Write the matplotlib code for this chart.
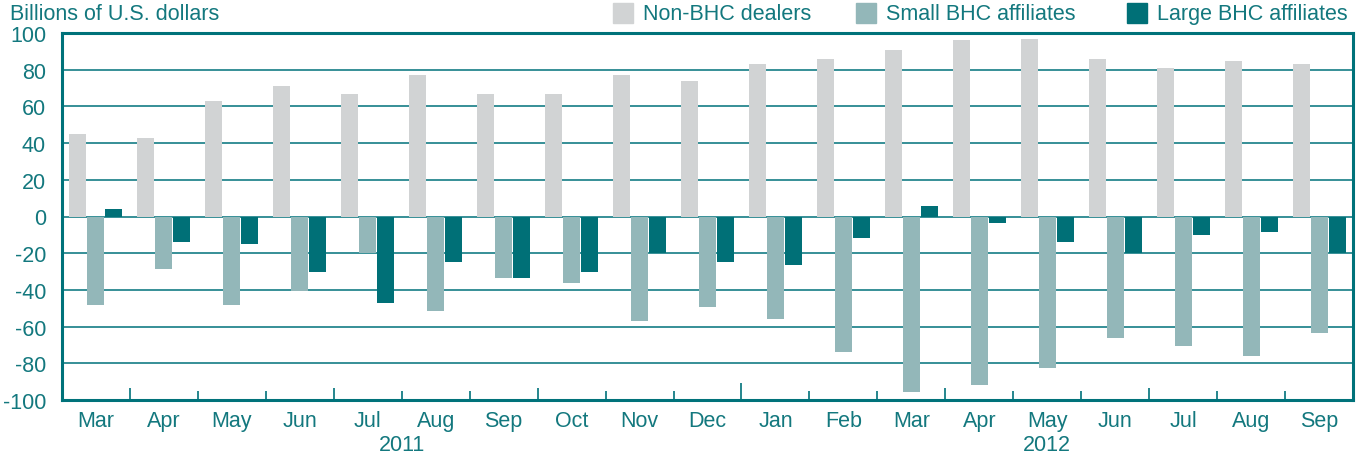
import numpy as np
import matplotlib
matplotlib.use('Agg')
import matplotlib.pyplot as plt
from matplotlib.patches import Rectangle

months = ['Mar', 'Apr', 'May', 'Jun', 'Jul', 'Aug', 'Sep', 'Oct', 'Nov', 'Dec',
          'Jan', 'Feb', 'Mar', 'Apr', 'May', 'Jun', 'Jul', 'Aug', 'Sep']
years = ['2011', '2012']
yearMonths = [10, 9]  # number of months in each year

nonBhc = [45, 43, 63, 71, 67, 77, 67, 67, 77, 74, 83, 86, 91, 96, 97, 86, 81, 85, 83]
smallBhc = [-48, -28.5, -48, -40.5, -20, -51.5, -33.5, -36, -57, -49.5, -56, -74,
            -95.5, -92, -82.5, -66, -70.5, -76, -63.5]
largeBhc = [4, -14, -15, -30, -47, -25, -33.5, -30, -20, -25, -26.5, -11.5,
            5.5, -3.5, -14, -20, -10, -8.5, -20]
seriesNames = ['Non-BHC dealers', 'Small BHC affiliates', 'Large BHC affiliates']

cGray = '#d1d3d4'
cSmall = '#93b7b9'
cLarge = '#007077'
cText = '#13787e'
cLine = '#00727a'

plt.rcParams['font.family'] = ['Liberation Sans', 'DejaVu Sans']
plt.rcParams['axes.unicode_minus'] = False
fs = 15.5

fig = plt.figure(figsize=(13.62, 4.6), dpi=100)
ax = fig.add_axes([62/1362, 1-401/460, (1353-62)/1362, (401-34)/460])

x = np.arange(len(months))
w = 0.25
off = 0.265
ax.bar(x - off, nonBhc, w, color=cGray, zorder=3)
ax.bar(x, smallBhc, w, color=cSmall, zorder=3)
ax.bar(x + off, largeBhc, w, color=cLarge, zorder=3)

ax.set_xlim(-0.5, len(months) - 0.5)
ax.set_ylim(-100, 100)
ax.set_yticks(np.arange(-100, 101, 20))
ax.tick_params(axis='y', length=0, pad=11.5, labelsize=fs, labelcolor=cText)
for v in range(-80, 100, 20):
    ax.axhline(v, color=cLine, lw=1.1, zorder=1)
for s in ax.spines.values():
    s.set_color(cLine)
    s.set_linewidth(2.2)

ax.set_xticks(x)
ax.set_xticklabels(months)
ax.tick_params(axis='x', length=0, pad=7, labelsize=fs, labelcolor=cText)

# month boundary ticks: quarter ticks longer, year tick longest
trans = ax.get_xaxis_transform()
for i in range(1, len(months)):
    if i == yearMonths[0]:
        h = 17
    elif i % 3 == 1:
        h = 12
    else:
        h = 9
    ax.vlines(i - 0.5, 0, h / 367, transform=trans, color=cLine, lw=1.2, zorder=4)

# year labels centred below their months
start = -0.5
for yr, n in zip(years, yearMonths):
    ax.text(start + n / 2, -0.121, yr, transform=trans, ha='center', va='center',
            fontsize=fs, color=cText)
    start += n

fig.text(10/1362, 1-15/460, 'Billions of U.S. dollars', ha='left', va='center',
         fontsize=fs, color=cText)

# legend across the top
legX = [613, 856, 1127]
for lx, name, c in zip(legX, seriesNames, [cGray, cSmall, cLarge]):
    fig.patches.append(Rectangle((lx/1362, 1-24/460), 20/1362, 20/460,
                                 transform=fig.transFigure, color=c))
    fig.text((lx + 30)/1362, 1-14.5/460, name, ha='left', va='center',
             fontsize=fs, color=cText)

fig.savefig('out.png', dpi=100)
